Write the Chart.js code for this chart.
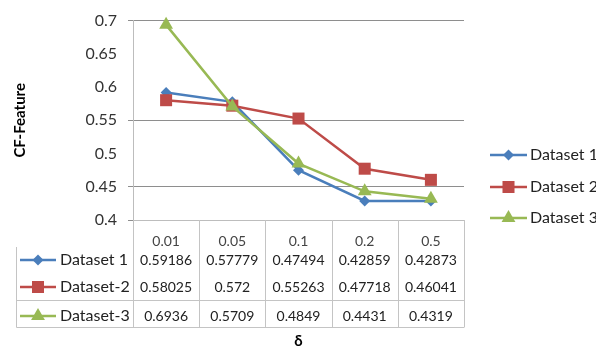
<!DOCTYPE html>
<html>
<head>
<meta charset="utf-8">
<style>
  html, body { margin: 0; padding: 0; background: #ffffff; }
  #wrap { width: 606px; height: 347px; position: relative; }
</style>
<script src="https://cdn.jsdelivr.net/npm/chart.js@4/dist/chart.umd.min.js"></script>
</head>
<body>
<div id="wrap"><canvas id="chart" width="606" height="347"></canvas></div>
<script>
// ---- data ----
const categories = ['0.01', '0.05', '0.1', '0.2', '0.5'];
const tableNames = ['Dataset 1', 'Dataset-2', 'Dataset-3'];
const legendNames = ['Dataset 1', 'Dataset 2', 'Dataset 3'];
const dataset1 = [0.59186, 0.57779, 0.47494, 0.42859, 0.42873];
const dataset2 = [0.58025, 0.572, 0.55263, 0.47718, 0.46041];
const dataset3 = [0.6936, 0.5709, 0.4849, 0.4431, 0.4319];
const yMin = 0.4;
const yMax = 0.7;
const yStep = 0.05;
const ruledLevels = [0.4, 0.45, 0.55, 0.7];

// ---- look ----
const FONT = 'Lato, "Open Sans", sans-serif';
const series = [
  { values: dataset1, color: '#4a7ebb', point: 'rectRot', radius: 5.5, order: 2 },
  { values: dataset2, color: '#be4b48', point: 'rect', radius: 8.5, order: 1 },
  { values: dataset3, color: '#98b954', point: 'triangle', radius: 8, order: 0 }
];

function drawKey(ctx, s, x0, x1, y) {
  ctx.save();
  ctx.strokeStyle = s.color;
  ctx.lineWidth = 2.5;
  ctx.beginPath();
  ctx.moveTo(x0, y);
  ctx.lineTo(x1, y);
  ctx.stroke();
  ctx.fillStyle = s.color;
  ctx.strokeStyle = s.color;
  Chart.helpers.drawPoint(ctx, { pointStyle: s.point, radius: s.radius, rotation: 0, borderWidth: 0 }, (x0 + x1) / 2, y);
  ctx.restore();
}

// data table under the plot plus the legend at the right
const tablePlugin = {
  id: 'dataTable',
  afterDraw(chart) {
    const ctx = chart.ctx;
    const x = chart.scales.x;
    const top = chart.chartArea.bottom;
    const half = (x.getPixelForValue(1) - x.getPixelForValue(0)) / 2;
    const colEdges = categories.map((c, i) => x.getPixelForValue(i) - half);
    colEdges.push(x.getPixelForValue(categories.length - 1) + half);
    const tableLeft = 16.5;
    const keyTop = 247;
    const sepY = 300.5;
    const bottomY = 327.5;
    const rowY = [260, 287, 316];

    ctx.save();
    ctx.strokeStyle = '#c4c4c4';
    ctx.lineWidth = 1;
    ctx.beginPath();
    colEdges.forEach(ex => {
      const px = Math.round(ex) + 0.5;
      ctx.moveTo(px, top);
      ctx.lineTo(px, bottomY);
    });
    ctx.moveTo(tableLeft, keyTop);
    ctx.lineTo(tableLeft, bottomY);
    ctx.moveTo(tableLeft, sepY);
    ctx.lineTo(colEdges[colEdges.length - 1], sepY);
    ctx.moveTo(tableLeft, bottomY);
    ctx.lineTo(colEdges[colEdges.length - 1], bottomY);
    ctx.stroke();

    ctx.textBaseline = 'middle';
    series.forEach((s, r) => {
      drawKey(ctx, s, 20, 56, rowY[r]);
      ctx.fillStyle = '#222222';
      ctx.font = '16px ' + FONT;
      ctx.textAlign = 'left';
      ctx.fillText(tableNames[r], 60, rowY[r]);
      ctx.font = '14px ' + FONT;
      ctx.textAlign = 'center';
      s.values.forEach((v, i) => {
        ctx.fillText(String(v), x.getPixelForValue(i), rowY[r]);
      });
    });
    ctx.restore();

    // legend, cut off by the frame edge at the right
    ctx.save();
    ctx.beginPath();
    ctx.rect(0, 0, 596, chart.height);
    ctx.clip();
    ctx.textBaseline = 'middle';
    const legY = [155, 187, 218];
    series.forEach((s, r) => {
      drawKey(ctx, s, 490, 527, legY[r]);
      ctx.fillStyle = '#222222';
      ctx.font = '16px ' + FONT;
      ctx.textAlign = 'left';
      ctx.fillText(legendNames[r], 530, legY[r]);
    });
    ctx.restore();
  }
};

const ctx = document.getElementById('chart').getContext('2d');
new Chart(ctx, {
  type: 'line',
  data: {
    labels: categories,
    datasets: series.map((s, i) => ({
      label: tableNames[i],
      data: s.values,
      borderColor: s.color,
      backgroundColor: s.color,
      pointBackgroundColor: s.color,
      pointBorderColor: s.color,
      pointBorderWidth: 0,
      borderWidth: 2.5,
      pointStyle: s.point,
      pointRadius: s.radius,
      tension: 0,
      order: s.order,
      clip: false
    }))
  },
  options: {
    responsive: false,
    animation: false,
    devicePixelRatio: 1,
    layout: { padding: { top: 17, right: 142, left: 0, bottom: 0 } },
    plugins: { legend: { display: false }, tooltip: { enabled: false } },
    scales: {
      x: {
        offset: true,
        grid: { display: false },
        border: { display: true, color: '#bdbdbd', width: 1 },
        ticks: { font: { family: FONT, size: 14 }, color: '#444444', padding: 5, maxRotation: 0 },
        title: { display: true, text: 'δ', color: '#000000', font: { family: FONT, size: 15, weight: 'bold', lineHeight: 0.8 }, padding: 0 },
        afterFit(scale) { scale.height = 127; }
      },
      y: {
        min: yMin,
        max: yMax,
        ticks: {
          stepSize: yStep,
          font: { family: FONT, size: 16 },
          color: '#333333',
          padding: 11,
          callback: v => String(+Number(v).toFixed(2))
        },
        grid: {
          tickLength: 5,
          color: c => ruledLevels.includes(+Number(c.tick.value).toFixed(2)) ? '#8e8e8e' : 'rgba(0,0,0,0)'
        },
        border: { display: true, color: '#bdbdbd', width: 1 },
        title: { display: true, text: 'CF-Feature', color: '#000000', font: { family: FONT, size: 15, weight: 'bold' }, padding: { top: 11, bottom: 0 } },
        afterFit(scale) { scale.width = 133; }
      }
    }
  },
  plugins: [tablePlugin]
});
</script>
</body>
</html>
